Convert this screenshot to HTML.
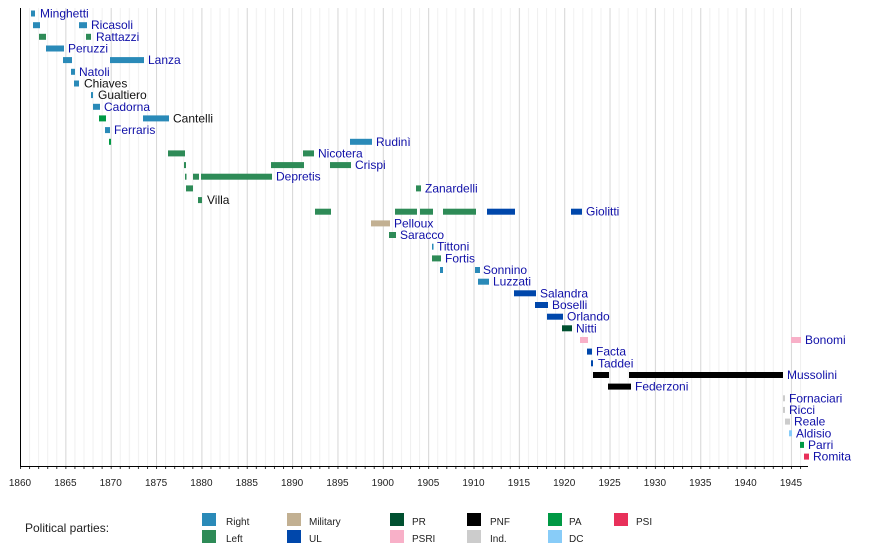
<!DOCTYPE html>
<html><head><meta charset="utf-8"><style>
body{margin:0;background:#fff}
svg{display:block;font-family:"Liberation Sans",sans-serif}
.l{fill:#1010a8;font-size:12px}
.k{fill:#111;font-size:12px}
.t{font-size:10px;fill:#222;text-anchor:middle}
.g{font-size:10px;fill:#222}
</style></head><body>
<svg width="890" height="546" viewBox="0 0 890 546">
<defs>
<pattern id="yr" x="20" y="0" width="9.07" height="10" patternUnits="userSpaceOnUse"><line x1="0.5" y1="0" x2="0.5" y2="10" stroke="#f0f0f0" stroke-width="1"/></pattern>
<pattern id="y5" x="20" y="0" width="45.35" height="10" patternUnits="userSpaceOnUse"><line x1="0.5" y1="0" x2="0.5" y2="10" stroke="#d8d8d8" stroke-width="1"/></pattern>
<pattern id="tk" x="20" y="0" width="9.07" height="10" patternUnits="userSpaceOnUse"><line x1="0.5" y1="0" x2="0.5" y2="10" stroke="#333" stroke-width="1"/></pattern>
</defs>
<rect x="20" y="8" width="788" height="458" fill="url(#yr)"/>
<rect x="20" y="8" width="788" height="458" fill="url(#y5)"/>
<rect x="20" y="466" width="788" height="3" fill="url(#tk)"/>
<line x1="20.5" y1="8" x2="20.5" y2="467" stroke="#000"/>
<line x1="20" y1="466.5" x2="808" y2="466.5" stroke="#000"/>
<g fill="#2a8ab8">
<rect x="31" y="10.5" width="4" height="6"/>
<rect x="33" y="22.2" width="7" height="6"/><rect x="79" y="22.2" width="8" height="6"/>
<rect x="46" y="45.5" width="18" height="6"/>
<rect x="63" y="57.1" width="9" height="6"/><rect x="110" y="57.1" width="34" height="6"/>
<rect x="71" y="68.8" width="4" height="6"/>
<rect x="74" y="80.5" width="5" height="6"/>
<rect x="91" y="92.1" width="2" height="6"/>
<rect x="93" y="103.8" width="7" height="6"/>
<rect x="143" y="115.4" width="26" height="6"/>
<rect x="105" y="127.1" width="5" height="6"/>
<rect x="350" y="138.8" width="22" height="6"/>
<rect x="432" y="243.7" width="1.5" height="6"/>
<rect x="440" y="267" width="3" height="6"/><rect x="475" y="267" width="5" height="6"/>
<rect x="478" y="278.7" width="11" height="6"/>
</g>
<g fill="#2e8b57">
<rect x="39" y="33.8" width="7" height="6"/><rect x="86" y="33.8" width="5" height="6"/>
<rect x="168" y="150.4" width="17" height="6"/><rect x="303" y="150.4" width="11" height="6"/>
<rect x="184" y="162.1" width="2" height="6"/><rect x="271" y="162.1" width="33" height="6"/><rect x="330" y="162.1" width="21" height="6"/>
<rect x="185" y="173.7" width="1.5" height="6"/><rect x="193" y="173.7" width="6" height="6"/><rect x="201" y="173.7" width="71" height="6"/>
<rect x="186" y="185.4" width="7" height="6"/><rect x="416" y="185.4" width="5" height="6"/>
<rect x="198" y="197.1" width="4" height="6"/>
<rect x="315" y="208.7" width="16" height="6"/><rect x="395" y="208.7" width="22" height="6"/><rect x="420" y="208.7" width="13" height="6"/><rect x="443" y="208.7" width="33" height="6"/>
<rect x="389" y="232" width="7" height="6"/>
<rect x="432" y="255.4" width="9" height="6"/>
</g>
<g fill="#009944">
<rect x="99" y="115.4" width="7" height="6"/>
<rect x="109" y="138.8" width="2" height="6"/>
<rect x="800" y="441.9" width="4" height="6"/>
</g>
<g fill="#0047ab">
<rect x="487" y="208.7" width="28" height="6"/><rect x="571" y="208.7" width="11" height="6"/>
<rect x="514" y="290.3" width="22" height="6"/>
<rect x="535" y="302" width="13" height="6"/>
<rect x="547" y="313.7" width="16" height="6"/>
<rect x="587" y="348.6" width="5" height="6"/>
<rect x="591" y="360.3" width="2" height="6"/>
</g>
<rect x="371" y="220.4" width="19" height="6" fill="#c2b092"/>
<rect x="562" y="325.3" width="10" height="6" fill="#005030"/>
<g fill="#f8b0c8"><rect x="580" y="337" width="8" height="6"/><rect x="791" y="337" width="10" height="6"/></g>
<g fill="#000"><rect x="593" y="372" width="16" height="6"/><rect x="629" y="372" width="154" height="6"/><rect x="608" y="383.6" width="23" height="6"/></g>
<g fill="#cccccc"><rect x="783" y="395.3" width="2" height="6"/><rect x="783" y="406.9" width="2" height="6"/><rect x="785" y="418.6" width="5" height="6"/></g>
<rect x="789" y="430.3" width="3" height="6" fill="#88ccf8"/>
<rect x="804" y="453.6" width="5" height="6" fill="#e8305a"/>
<text class="l" x="40" y="17.5">Minghetti</text>
<text class="l" x="91" y="29.2">Ricasoli</text>
<text class="l" x="96" y="40.8">Rattazzi</text>
<text class="l" x="68" y="52.5">Peruzzi</text>
<text class="l" x="148" y="64.1">Lanza</text>
<text class="l" x="79" y="75.8">Natoli</text>
<text class="k" x="84" y="87.5">Chiaves</text>
<text class="k" x="98" y="99.1">Gualtiero</text>
<text class="l" x="104" y="110.8">Cadorna</text>
<text class="k" x="173" y="122.4">Cantelli</text>
<text class="l" x="114" y="134.1">Ferraris</text>
<text class="l" x="376" y="145.8">Rudinì</text>
<text class="l" x="318" y="157.4">Nicotera</text>
<text class="l" x="355" y="169.1">Crispi</text>
<text class="l" x="276" y="180.7">Depretis</text>
<text class="l" x="425" y="192.4">Zanardelli</text>
<text class="k" x="207" y="204.1">Villa</text>
<text class="l" x="586" y="215.7">Giolitti</text>
<text class="l" x="394" y="227.4">Pelloux</text>
<text class="l" x="400" y="239">Saracco</text>
<text class="l" x="437" y="250.7">Tittoni</text>
<text class="l" x="445" y="262.4">Fortis</text>
<text class="l" x="483" y="274">Sonnino</text>
<text class="l" x="493" y="285.7">Luzzati</text>
<text class="l" x="540" y="297.3">Salandra</text>
<text class="l" x="552" y="309">Boselli</text>
<text class="l" x="567" y="320.7">Orlando</text>
<text class="l" x="576" y="332.3">Nitti</text>
<text class="l" x="805" y="344">Bonomi</text>
<text class="l" x="596" y="355.6">Facta</text>
<text class="l" x="598" y="367.3">Taddei</text>
<text class="l" x="787" y="379">Mussolini</text>
<text class="l" x="635" y="390.6">Federzoni</text>
<text class="l" x="789" y="402.3">Fornaciari</text>
<text class="l" x="789" y="413.9">Ricci</text>
<text class="l" x="794" y="425.6">Reale</text>
<text class="l" x="796" y="437.3">Aldisio</text>
<text class="l" x="808" y="448.9">Parri</text>
<text class="l" x="813" y="460.6">Romita</text>
<g class="t">
<text x="20" y="486">1860</text><text x="65.4" y="486">1865</text><text x="110.7" y="486">1870</text><text x="156.1" y="486">1875</text><text x="201.4" y="486">1880</text><text x="246.8" y="486">1885</text><text x="292.1" y="486">1890</text><text x="337.5" y="486">1895</text><text x="382.8" y="486">1900</text><text x="428.2" y="486">1905</text><text x="473.5" y="486">1910</text><text x="518.9" y="486">1915</text><text x="564.2" y="486">1920</text><text x="609.6" y="486">1925</text><text x="654.9" y="486">1930</text><text x="700.3" y="486">1935</text><text x="745.6" y="486">1940</text><text x="791" y="486">1945</text>
</g>
<text x="25" y="532" style="font-size:12px;fill:#222">Political parties:</text>
<rect x="202" y="513" width="14" height="13" fill="#2a8ab8"/><text class="g" x="226" y="525">Right</text>
<rect x="202" y="530" width="14" height="13" fill="#2e8b57"/><text class="g" x="226" y="542">Left</text>
<rect x="287" y="513" width="14" height="13" fill="#c2b092"/><text class="g" x="309" y="525">Military</text>
<rect x="287" y="530" width="14" height="13" fill="#0047ab"/><text class="g" x="309" y="542">UL</text>
<rect x="390" y="513" width="14" height="13" fill="#005030"/><text class="g" x="412" y="525">PR</text>
<rect x="390" y="530" width="14" height="13" fill="#f8b0c8"/><text class="g" x="412" y="542">PSRI</text>
<rect x="467" y="513" width="14" height="13" fill="#000"/><text class="g" x="490" y="525">PNF</text>
<rect x="467" y="530" width="14" height="13" fill="#cccccc"/><text class="g" x="490" y="542">Ind.</text>
<rect x="548" y="513" width="14" height="13" fill="#009944"/><text class="g" x="569" y="525">PA</text>
<rect x="548" y="530" width="14" height="13" fill="#88ccf8"/><text class="g" x="569" y="542">DC</text>
<rect x="614" y="513" width="14" height="13" fill="#e8305a"/><text class="g" x="636" y="525">PSI</text>
</svg>
</body></html>
